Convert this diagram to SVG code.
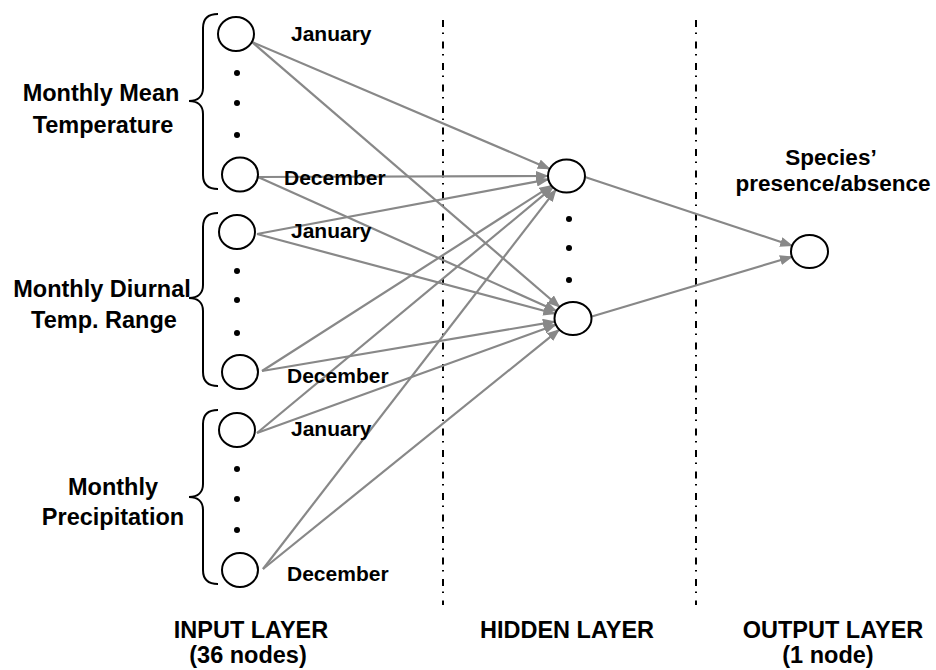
<svg xmlns="http://www.w3.org/2000/svg" width="936" height="670" viewBox="0 0 936 670">
<style>
text{font-family:"Liberation Sans",Arial,sans-serif;font-weight:bold;fill:#000}
.grp{font-size:23.5px;text-anchor:middle}
.sp{font-size:22.5px;text-anchor:middle}
.mon{font-size:21px}
.lay{font-size:23.5px;text-anchor:middle}
.node{fill:#fff;stroke:#000;stroke-width:2}
.dot{fill:#000}
.brace{fill:none;stroke:#000;stroke-width:2}
.sep{stroke:#000;stroke-width:2;stroke-dasharray:7 5.5 1.5 7.5;fill:none}
.conn line{stroke:#888;stroke-width:2.2;marker-end:url(#arr)}
</style>
<defs>
<marker id="arr" markerUnits="userSpaceOnUse" markerWidth="13" markerHeight="10" viewBox="0 0 13 10" refX="12" refY="5" orient="auto">
<path d="M0,0 L13,5 L0,10 z" fill="#888"/>
</marker>
</defs>
<rect width="936" height="670" fill="#fff"/>

<g id="separators">
<line class="sep" x1="443" y1="20" x2="443" y2="605"/>
<line class="sep" x1="696" y1="20" x2="696" y2="605"/>
</g>

<g id="connectors" class="conn">
<line x1="252" y1="42" x2="549.8" y2="168.9"/>
<line x1="252" y1="42" x2="559.7" y2="307"/>
<line x1="258" y1="177" x2="548" y2="176"/>
<line x1="258" y1="177" x2="556.5" y2="311"/>
<line x1="257" y1="234" x2="548.4" y2="179.4"/>
<line x1="257" y1="234" x2="555.3" y2="313.8"/>
<line x1="262" y1="371" x2="551.5" y2="185.6"/>
<line x1="262" y1="371" x2="554.8" y2="321.6"/>
<line x1="257" y1="433" x2="553" y2="187.2"/>
<line x1="257" y1="433" x2="555.9" y2="324.7"/>
<line x1="263" y1="569" x2="556" y2="189.6"/>
<line x1="263" y1="569" x2="559.3" y2="329.6"/>
<line x1="585.7" y1="177.3" x2="792.2" y2="245.7"/>
<line x1="591" y1="316.7" x2="792" y2="256.7"/>
</g>

<g id="input-temp">
<path class="brace" d="M218,14 C208,14 203,18 203,28 L203,88 C203,96 198,101 189,101 C198,101 203,106 203,114 L203,175 C203,185 208,189 218,189"/>
<text class="grp" x="101" y="101">Monthly Mean</text>
<text class="grp" x="103" y="133">Temperature</text>
<ellipse class="node" cx="236" cy="34" rx="18" ry="17"/>
<circle class="dot" cx="237" cy="73" r="3"/>
<circle class="dot" cx="237" cy="103" r="3"/>
<circle class="dot" cx="237" cy="135" r="3"/>
<ellipse class="node" cx="240" cy="174.5" rx="18" ry="17"/>
<text class="mon" x="291" y="41">January</text>
<text class="mon" x="284" y="185">December</text>
</g>

<g id="input-diurnal">
<path class="brace" d="M218,213 C208,213 203,217 203,227 L203,285 C203,293 198,298 189,298 C198,298 203,303 203,311 L203,372 C203,382 208,386 218,386"/>
<text class="grp" x="102" y="297">Monthly Diurnal</text>
<text class="grp" x="104" y="328">Temp. Range</text>
<ellipse class="node" cx="237" cy="232" rx="18" ry="17"/>
<circle class="dot" cx="237" cy="271" r="3"/>
<circle class="dot" cx="237" cy="300" r="3"/>
<circle class="dot" cx="237" cy="333" r="3"/>
<ellipse class="node" cx="240" cy="372" rx="18" ry="17"/>
<text class="mon" x="291" y="238">January</text>
<text class="mon" x="287" y="383">December</text>
</g>

<g id="input-precip">
<path class="brace" d="M218,410 C208,410 203,414 203,424 L203,484 C203,492 198,497 189,497 C198,497 203,502 203,510 L203,570 C203,580 208,584 218,584"/>
<text class="grp" x="113" y="495">Monthly</text>
<text class="grp" x="113" y="525">Precipitation</text>
<ellipse class="node" cx="237" cy="430" rx="18" ry="17"/>
<circle class="dot" cx="237" cy="469" r="3"/>
<circle class="dot" cx="237" cy="499" r="3"/>
<circle class="dot" cx="237" cy="530" r="3"/>
<ellipse class="node" cx="240" cy="570" rx="18" ry="17"/>
<text class="mon" x="291" y="436">January</text>
<text class="mon" x="287" y="581">December</text>
</g>

<g id="hidden">
<ellipse class="node" cx="566.5" cy="176" rx="18.5" ry="16.5"/>
<circle class="dot" cx="569" cy="219" r="3"/>
<circle class="dot" cx="569" cy="248" r="3"/>
<circle class="dot" cx="569" cy="280" r="3"/>
<ellipse class="node" cx="573" cy="318.5" rx="18.5" ry="16.5"/>
</g>

<g id="output">
<ellipse class="node" cx="809.5" cy="251.5" rx="18.5" ry="16.5"/>
<text class="sp" x="831" y="165">Species’</text>
<text class="sp" x="833" y="191">presence/absence</text>
</g>

<g id="labels">
<text class="lay" x="251" y="638">INPUT LAYER</text>
<text class="lay" x="248" y="663">(36 nodes)</text>
<text class="lay" x="567" y="638">HIDDEN LAYER</text>
<text class="lay" x="833" y="638">OUTPUT LAYER</text>
<text class="lay" x="828" y="663">(1 node)</text>
</g>
</svg>
